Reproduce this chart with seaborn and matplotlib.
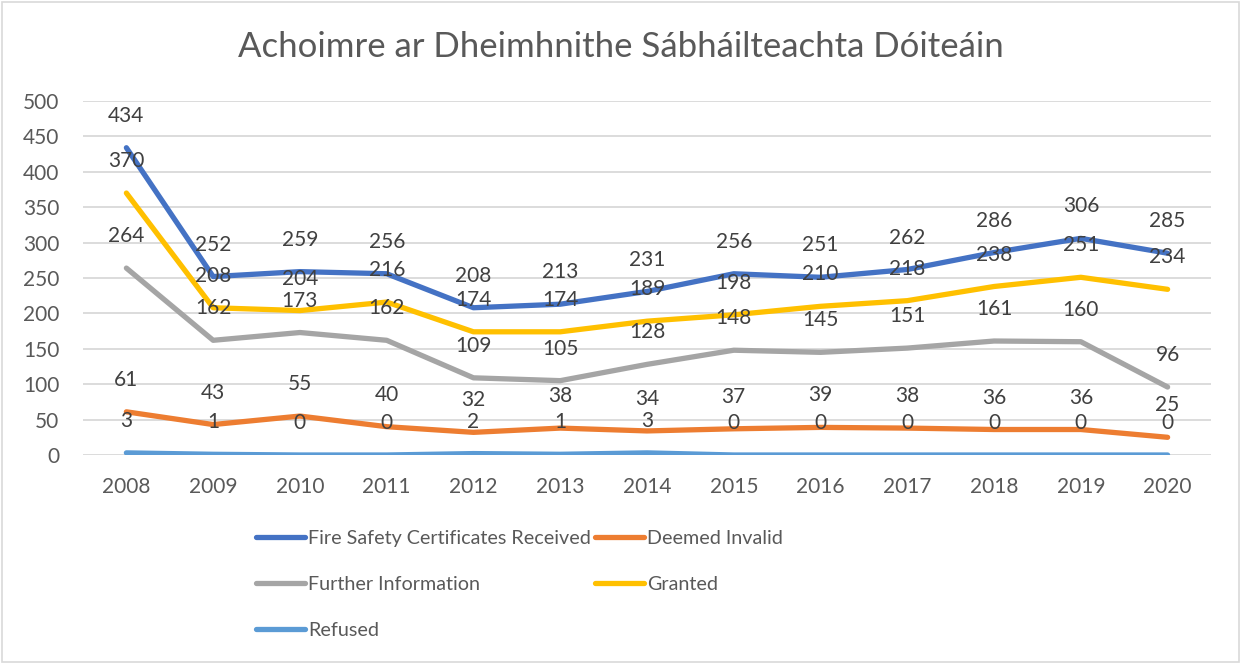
import pandas as pd
import matplotlib
matplotlib.use("Agg")
import matplotlib.pyplot as plt
import seaborn as sns
from matplotlib.patches import Rectangle

# data
years = [2008, 2009, 2010, 2011, 2012, 2013, 2014, 2015, 2016, 2017, 2018, 2019, 2020]
received = [434, 252, 259, 256, 208, 213, 231, 256, 251, 262, 286, 306, 285]
deemed_invalid = [61, 43, 55, 40, 32, 38, 34, 37, 39, 38, 36, 36, 25]
further_info = [264, 162, 173, 162, 109, 105, 128, 148, 145, 151, 161, 160, 96]
granted = [370, 208, 204, 216, 174, 174, 189, 198, 210, 218, 238, 251, 234]
refused = [3, 1, 0, 0, 2, 1, 3, 0, 0, 0, 0, 0, 0]

series_names = ["Fire Safety Certificates Received", "Deemed Invalid",
                "Further Information", "Granted", "Refused"]
series_values = [received, deemed_invalid, further_info, granted, refused]
colors = ["#4472C4", "#ED7D31", "#A5A5A5", "#FFC000", "#5B9BD5"]

rows = []
for name, vals in zip(series_names, series_values):
    for y, v in zip(years, vals):
        rows.append({"year": y, "value": v, "series": name})
df = pd.DataFrame(rows)

sns.set_style("white")
plt.rcParams["font.family"] = ["Lato", "DejaVu Sans"]
text_col = "#595959"

fig = plt.figure(figsize=(12.41, 6.64), dpi=100)
ax = fig.add_axes([83 / 1241, 1 - 455 / 664, 1128 / 1241, 354 / 664])

sns.lineplot(data=df, x="year", y="value", hue="series", hue_order=series_names,
             palette=colors, linewidth=3.8, ax=ax, solid_capstyle="round")

# data labels above each point
for name, vals in zip(series_names, series_values):
    for y, v in zip(years, vals):
        ax.annotate(str(v), (y, v), xytext=(0, 23), textcoords="offset points",
                    ha="center", va="center", fontsize=15, color="#404040")

ax.set_xlim(2007.5, 2020.5)
ax.set_ylim(0, 500)
ax.set_yticks(range(0, 501, 50))
ax.set_xticks(years)
ax.set_xticklabels([str(y) for y in years])
ax.grid(axis="y", color="#D9D9D9", linewidth=1.3)
ax.set_axisbelow(True)
for s in ax.spines.values():
    s.set_visible(False)
ax.tick_params(axis="y", length=0, pad=17, labelsize=15, labelcolor=text_col)
ax.tick_params(axis="x", length=0, pad=16, labelsize=15, labelcolor=text_col)
ax.set_xlabel("")
ax.set_ylabel("")

fig.text(0.5, 1 - 47 / 664, "Achoimre ar Dheimhnithe Sábháilteachta Dóiteáin",
         ha="center", va="center", fontsize=25, color=text_col)

# legend, reordered so it reads row by row like the original
handles, labels = ax.get_legend_handles_labels()
order = [0, 2, 4, 1, 3]
leg = ax.legend([handles[i] for i in order], [labels[i] for i in order],
                ncol=2, loc="upper left", bbox_to_anchor=(248 / 1241, 1 - 522 / 664),
                bbox_transform=fig.transFigure, frameon=False, fontsize=14.2,
                handlelength=2.5, handletextpad=0.15, columnspacing=0.2,
                labelspacing=1.48, borderaxespad=0)
for t in leg.get_texts():
    t.set_color(text_col)
for h in leg.get_lines():
    h.set_linewidth(3.8)

fig.patches.append(Rectangle((0.002, 0.003), 0.996, 0.994, transform=fig.transFigure,
                             fill=False, edgecolor="#D9D9D9", linewidth=1.2))

fig.savefig("out.png", dpi=100)
